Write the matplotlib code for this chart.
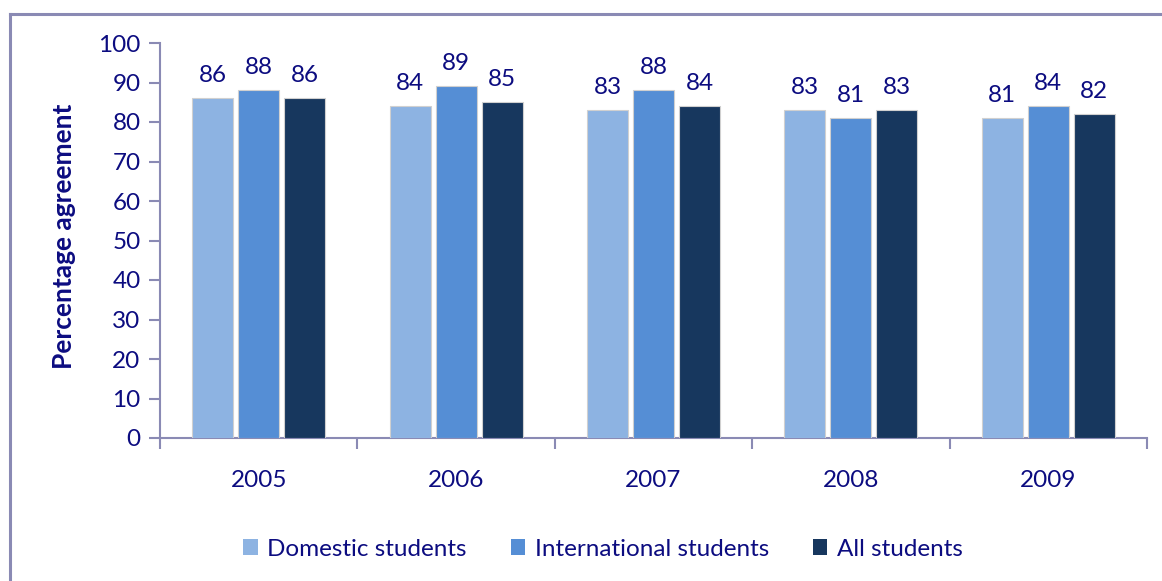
import matplotlib
matplotlib.use("Agg")
import matplotlib.pyplot as plt
from matplotlib.lines import Line2D
import numpy as np

years = ["2005", "2006", "2007", "2008", "2009"]
series_names = ["Domestic students", "International students", "All students"]
domestic = [86, 84, 83, 83, 81]
international = [88, 89, 88, 81, 84]
all_students = [86, 85, 84, 83, 82]
colors = ["#8DB3E2", "#558ED5", "#17375E"]

txt = "#0c0c80"
axc = "#8a8ab4"
plt.rcParams['font.family'] = ['Lato', 'DejaVu Sans']
FS = 17.5

fig = plt.figure(figsize=(11.62, 5.81), dpi=100)
# outer border (extends past right and bottom edges)
W, H = 1162, 581
fig.add_artist(Line2D([10 / W, 1.0], [1 - 14 / H, 1 - 14 / H], color=axc, lw=2.2, transform=fig.transFigure))
fig.add_artist(Line2D([10 / W, 10 / W], [0, 1 - 14 / H], color=axc, lw=2.2, transform=fig.transFigure))

ax = fig.add_axes([160 / W, 1 - 438 / H, (1147 - 160) / W, (438 - 43) / H])
x = np.arange(len(years))
offs = [-0.233, 0, 0.233]
for vals, name, c, o in zip([domestic, international, all_students], series_names, colors, offs):
    bars = ax.bar(x + o, vals, width=0.208, color=c, label=name,
                  edgecolor="#d0d0d0", linewidth=0.8, zorder=3)
    for b, v in zip(bars, vals):
        ax.annotate(str(v), (b.get_x() + b.get_width() / 2, v), xytext=(0, 9),
                    textcoords="offset points", ha="center", va="bottom",
                    fontsize=FS, color=txt)

ax.set_xlim(-0.5, len(years) - 0.5)
ax.set_ylim(0, 100)
ax.set_yticks(range(0, 101, 10))
ax.set_xticks(x)
ax.set_xticklabels(years)
ax.set_xticks(np.arange(-0.5, len(years)), minor=True)
ax.tick_params(axis="x", which="major", length=0, pad=23, labelsize=FS, labelcolor=txt)
ax.tick_params(axis="x", which="minor", length=8, width=1.5, color=axc, direction="out")
ax.tick_params(axis="y", length=8, width=1.5, color=axc, labelsize=FS, labelcolor=txt, pad=6)
for s in ["top", "right"]:
    ax.spines[s].set_visible(False)
for s in ["left", "bottom"]:
    ax.spines[s].set_color(axc)
    ax.spines[s].set_linewidth(1.5)
ax.set_ylabel("Percentage agreement", fontsize=19, fontweight="bold", color=txt)
ax.yaxis.set_label_coords(-0.085, 0.51)

leg = fig.legend(loc="center", bbox_to_anchor=(603 / W, 1 - 549 / H), ncol=3, frameon=False,
                 fontsize=FS, handlelength=0.6, handleheight=0.6, handletextpad=0.4,
                 columnspacing=1.8)
for t in leg.get_texts():
    t.set_color(txt)
for h in leg.legend_handles:
    h.set_edgecolor("none")

fig.savefig("out.png", dpi=100)
